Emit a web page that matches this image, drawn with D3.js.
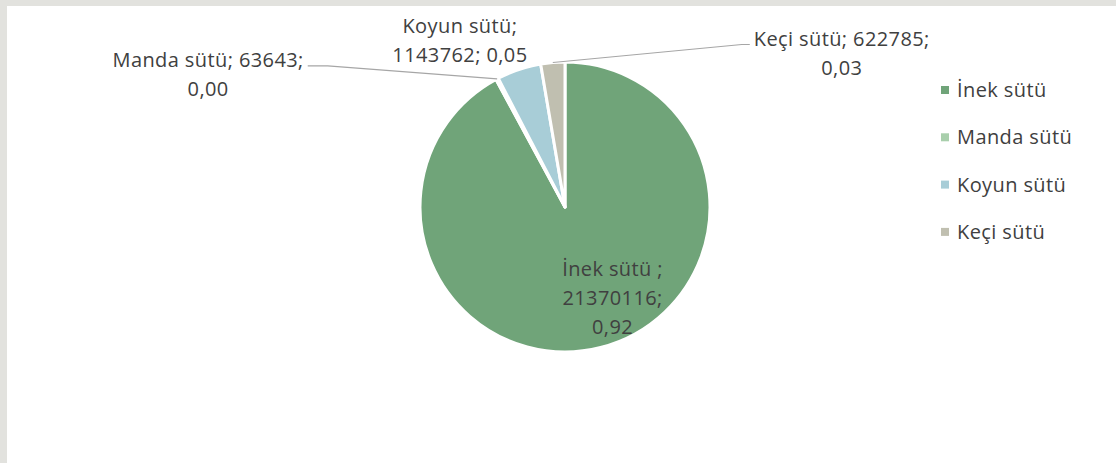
<!DOCTYPE html>
<html>
<head>
<meta charset="utf-8">
<script src="https://cdn.jsdelivr.net/npm/d3@7"></script>
<style>
  body { margin: 0; background: #e2e2de; }
  svg { display: block; }
  text { font-family: "Open Sans", "Noto Sans", sans-serif; fill: #404040; letter-spacing: 0.4px; }
</style>
</head>
<body>
<div id="chart"></div>
<script>
// data
const categories = ["İnek sütü", "Manda sütü", "Koyun sütü", "Keçi sütü"];
const values = [21370116, 63643, 1143762, 622785];
const shares = ["0,92", "0,00", "0,05", "0,03"];
const labelLines = [
    ["İnek sütü ;", "21370116;", "0,92"],
    ["Manda sütü; 63643;", "0,00"],
    ["Koyun sütü;", "1143762; 0,05"],
    ["Keçi sütü; 622785;", "0,03"]
];
const colors = ["#70a479", "#a9cfac", "#a8cdd7", "#c0bfb0"];

const width = 1116, height = 463;
const cx = 565, cy = 207, radius = 145;
const fontSize = 20, lineH = 29;

// label placement: offset of the first baseline / block centre from the slice's outer mid point
const labelOffset = [
    { dx: 28, dy: -8, leader: false, inside: true },
    { dx: -289, dy: -12, leader: true, side: "left" },
    { dx: -59, dy: -37, leader: false },
    { dx: 289, dy: -17, leader: true, side: "right" }
];

const svg = d3.select("#chart").append("svg")
    .attr("width", width)
    .attr("height", height);

// white chart area inside the grey frame
svg.append("rect")
    .attr("x", 7).attr("y", 6)
    .attr("width", width).attr("height", height)
    .attr("fill", "#ffffff");

const data = categories.map((c, i) => ({ name: c, value: values[i], share: shares[i], lines: labelLines[i], color: colors[i] }));

const pie = d3.pie().sort(null).value(d => d.value);
const arcs = pie(data);

const arc = d3.arc().innerRadius(0).outerRadius(radius);
const outerArc = d3.arc().innerRadius(radius).outerRadius(radius);
const innerArc = d3.arc().innerRadius(radius * 0.55).outerRadius(radius * 0.55);

const g = svg.append("g").attr("transform", `translate(${cx},${cy})`);

g.selectAll("path.slice")
    .data(arcs)
    .enter()
    .append("path")
    .attr("class", "slice")
    .attr("d", arc)
    .attr("fill", d => d.data.color)
    .attr("stroke", "#ffffff")
    .attr("stroke-width", 3)
    .attr("stroke-linejoin", "round");

// data labels
arcs.forEach((d, i) => {
    const off = labelOffset[i];
    const p = off.inside ? innerArc.centroid(d) : outerArc.centroid(d);
    const lx = p[0] + off.dx, ly = p[1] + off.dy;

    const txt = g.append("text")
        .attr("text-anchor", "middle")
        .attr("font-size", fontSize);
    d.data.lines.forEach((t, j) => {
        txt.append("tspan")
            .attr("x", lx)
            .attr("y", ly + j * lineH)
            .text(t);
    });

    if (off.leader) {
        const w = txt.select("tspan").node().getComputedTextLength();
        const edgeX = off.side === "left" ? lx + w / 2 + 4 : lx - w / 2 - 4;
        const edgeY = ly - 1;
        const knee = off.side === "left" ? edgeX + 20 : edgeX - 8;
        g.append("polyline")
            .attr("points", `${edgeX},${edgeY} ${knee},${edgeY} ${p[0]},${p[1]}`)
            .attr("fill", "none")
            .attr("stroke", "#a6a6a6")
            .attr("stroke-width", 1.2);
    }
});

// legend
const legend = svg.append("g").attr("transform", "translate(941, 90)");
const items = legend.selectAll("g.item")
    .data(data)
    .enter()
    .append("g")
    .attr("class", "item")
    .attr("transform", (d, i) => `translate(0, ${i * 47.3})`);

items.append("rect")
    .attr("x", 0).attr("y", -4)
    .attr("width", 8).attr("height", 8)
    .attr("fill", d => d.color);

items.append("text")
    .attr("x", 16)
    .attr("y", 7)
    .attr("font-size", fontSize)
    .text(d => d.name);
</script>
</body>
</html>
